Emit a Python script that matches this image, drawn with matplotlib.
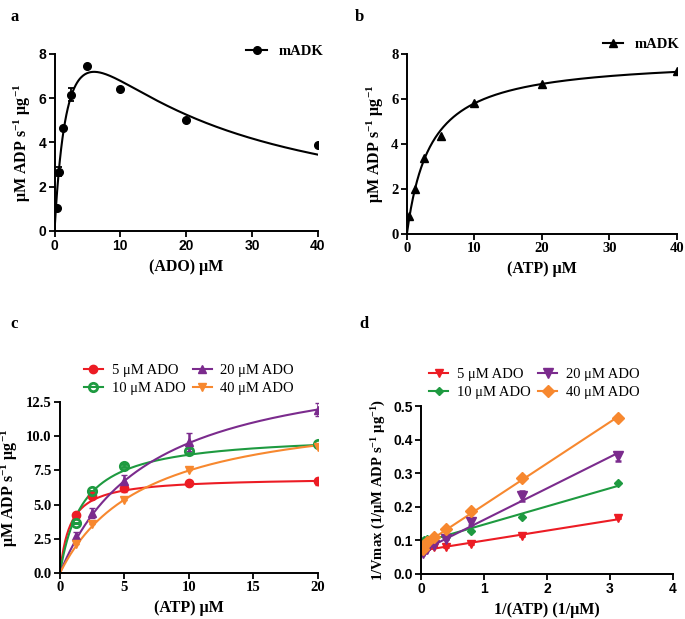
import numpy as np
import matplotlib
matplotlib.use("Agg")
import matplotlib.pyplot as plt

plt.rcParams['font.family'] = ['Liberation Serif', 'DejaVu Serif']
plt.rcParams['mathtext.fontset'] = 'custom'
plt.rcParams['mathtext.rm'] = 'Liberation Serif:bold'
plt.rcParams['mathtext.default'] = 'regular'

# panel a: ADO saturation
ado = [0.3125, 0.625, 1.25, 2.5, 5, 10, 20, 40]
ado_v = [1.05, 2.68, 4.65, 6.15, 7.43, 6.42, 5.0, 3.9]
ado_err = [0, 0.22, 0, 0.3, 0, 0, 0, 0]
# substrate inhibition fit: V, Km, Ki
ado_fit = (13.1, 2.47, 14.6)

# panel b: ATP saturation
atp = [0.3125, 1.25, 2.5, 5, 10, 20, 40]
atp_v = [0.79, 1.98, 3.39, 4.36, 5.8, 6.65, 7.22]
atp_fit = (7.83, 3.5)

# panel c: ATP at fixed ADO
c_atp = [1.25, 2.5, 5, 10, 20]
c_labels = ['5 μM ADO', '10 μM ADO', '20 μM ADO', '40 μM ADO']
c_vals = [[4.25, 5.6, 6.19, 6.55, 6.7],
          [3.69, 5.97, 7.84, 8.95, 9.45],
          [2.67, 4.39, 6.75, 9.55, 11.95],
          [2.09, 3.59, 5.36, 7.5, 9.2]]
c_errs = [[0, 0.15, 0.3, 0, 0.25],
          [0, 0, 0.1, 0.2, 0],
          [0.35, 0.35, 0.4, 0.65, 0.45],
          [0, 0, 0, 0, 0]]
c_fits = [(7.0, 0.8), (10.2, 1.8), (16.1, 6.95), (12.4, 6.56)]

# panel d: double reciprocal
d_x = [0.025, 0.05, 0.1, 0.2, 0.4, 0.8, 1.6, 3.125]
d_vals = [[0.070, 0.072, 0.075, 0.080, 0.079, 0.089, 0.113, 0.166],
          [0.098, 0.100, 0.104, 0.106, 0.111, 0.128, 0.169, 0.270],
          [0.062, 0.068, 0.075, 0.085, 0.105, 0.155, 0.232, 0.350],
          [0.075, 0.085, 0.095, 0.111, 0.134, 0.188, 0.285, 0.463]]
d_errs = [[0] * 8, [0] * 8,
          [0, 0, 0, 0, 0, 0.008, 0.016, 0.013],
          [0] * 8]

colors = ['#EC1C24', '#1E9A40', '#7B2B8D', '#F7882F']

fig = plt.figure(figsize=(6.85, 6.19), dpi=100)
axa = fig.add_axes([0.0796, 0.627, 0.3844, 0.286])
axb = fig.add_axes([0.594, 0.622, 0.394, 0.291])
axc = fig.add_axes([0.0876, 0.0743, 0.3764, 0.2763])
axd = fig.add_axes([0.6146, 0.0727, 0.3679, 0.2713])

ylab = 'μM ADP s$^{-1}$ μg$^{-1}$'


def style(ax, sans):
    for s in ['top', 'right']:
        ax.spines[s].set_visible(False)
    for s in ['left', 'bottom']:
        ax.spines[s].set_linewidth(1.4)
    ax.tick_params(width=1.3, length=4, direction='out', pad=2)
    fam = ['Liberation Sans'] if sans else ['Liberation Serif']
    for t in ax.get_xticklabels() + ax.get_yticklabels():
        t.set_family(fam)
        t.set_fontweight('bold')
        t.set_fontsize(10 if sans else 10.5)


# a
xx = np.linspace(0, 40, 400)
V, Km, Ki = ado_fit
axa.plot(xx, V * xx / (Km + xx + xx ** 2 / Ki), color='k', lw=1.5)
axa.errorbar(ado, ado_v, yerr=ado_err, fmt='o', color='k', ms=5.5, capsize=2.5,
             elinewidth=1.3, capthick=1.3, lw=1.5)
axa.plot([], [], 'o-', color='k', ms=5.5, lw=1.5, label='mADK')
axa.set_xlim(0, 40)
axa.set_ylim(0, 8)
axa.set_xticks([0, 10, 20, 30, 40])
axa.set_yticks([0, 2, 4, 6, 8])
axa.set_xlabel('(ADO) μM', fontweight='bold', fontsize=11.5)
axa.set_ylabel(ylab, fontweight='bold', fontsize=11.5)
axa.legend(loc='upper right', bbox_to_anchor=(1.07, 1.125), frameon=False,
           prop={'weight': 'bold', 'size': 10.5}, handlelength=1.4)
style(axa, True)

# b
V, Km = atp_fit
axb.plot(xx, V * xx / (Km + xx), color='k', lw=1.5)
axb.plot(atp, atp_v, '^', color='k', ms=5.5)
axb.plot([], [], '^-', color='k', ms=5.5, lw=1.5, label='mADK')
axb.set_xlim(0, 40)
axb.set_ylim(0, 8)
axb.set_xticks([0, 10, 20, 30, 40])
axb.set_yticks([0, 2, 4, 6, 8])
axb.set_xlabel('(ATP) μM', fontweight='bold', fontsize=11.5)
axb.set_ylabel(ylab, fontweight='bold', fontsize=11.5)
axb.legend(loc='upper right', bbox_to_anchor=(1.06, 1.16), frameon=False,
           prop={'weight': 'bold', 'size': 10.5}, handlelength=1.4)
style(axb, False)

# c
xc = np.linspace(0, 20, 300)
cmarks = ['o', 'o', '^', 'v']
handles = []
for i in range(4):
    V, Km = c_fits[i]
    axc.plot(xc, V * xc / (Km + xc), color=colors[i], lw=1.5)
    mfc = 'none' if i == 1 else colors[i]
    mew = 2.0 if i == 1 else 1
    axc.errorbar(c_atp, c_vals[i], yerr=c_errs[i], fmt=cmarks[i], color=colors[i],
                 mfc=mfc, mew=mew, ms=6, capsize=2.5, elinewidth=1.8, capthick=1.8)
    h, = axc.plot([], [], cmarks[i] + '-', color=colors[i], mfc=mfc, mew=mew, ms=6,
                  lw=1.5, label=c_labels[i])
    handles.append(h)
axc.set_xlim(0, 20)
axc.set_ylim(0, 12.5)
axc.set_xticks([0, 5, 10, 15, 20])
axc.set_yticks([0, 2.5, 5, 7.5, 10, 12.5])
axc.set_yticklabels(['0.0', '2.5', '5.0', '7.5', '10.0', '12.5'])
axc.set_xlabel('(ATP) μM', fontweight='bold', fontsize=11.5)
axc.set_ylabel(ylab, fontweight='bold', fontsize=11.5)
axc.legend(handles=handles, loc='lower center', bbox_to_anchor=(0.50, 1.0), ncol=2,
           frameon=False, prop={'size': 10.5}, handlelength=1.3, columnspacing=0.5,
           labelspacing=0.3, handletextpad=0.6, borderpad=0)
style(axc, False)

# d
xd = np.linspace(0, 3.125, 50)
dmarks = ['v', 'D', 'v', 'D']
dsize = [5.5, 4, 7, 6]
handles = []
for i in range(4):
    k, b = np.polyfit(d_x, d_vals[i], 1)
    axd.plot(xd, k * xd + b, color=colors[i], lw=1.5)
    axd.errorbar(d_x, d_vals[i], yerr=d_errs[i], fmt=dmarks[i], color=colors[i],
                 ms=dsize[i], capsize=2.5, elinewidth=1.8, capthick=1.8)
    h, = axd.plot([], [], dmarks[i] + '-', color=colors[i], ms=dsize[i], lw=1.5,
                  label=c_labels[i])
    handles.append(h)
axd.set_xlim(0, 4)
axd.set_ylim(0, 0.5)
axd.set_xticks([0, 1, 2, 3, 4])
axd.set_yticks([0, 0.1, 0.2, 0.3, 0.4, 0.5])
axd.set_yticklabels(['0.0', '0.1', '0.2', '0.3', '0.4', '0.5'])
axd.set_xlabel('1/(ATP) (1/μM)', fontweight='bold', fontsize=11.5)
axd.set_ylabel('1/Vmax (1/μM ADP s$^{-1}$ μg$^{-1}$)', fontweight='bold', fontsize=10.5)
axd.legend(handles=handles, loc='lower center', bbox_to_anchor=(0.45, 1.0), ncol=2,
           frameon=False, prop={'size': 10.5}, handlelength=1.3, columnspacing=0.5,
           labelspacing=0.3, handletextpad=0.6, borderpad=0)
style(axd, True)

for lab, x, y in [('a', 0.015, 0.985), ('b', 0.518, 0.985), ('c', 0.015, 0.49), ('d', 0.525, 0.49)]:
    fig.text(x, y, lab, fontweight='bold', fontsize=12, va='top')

fig.savefig('out.png', dpi=100)
